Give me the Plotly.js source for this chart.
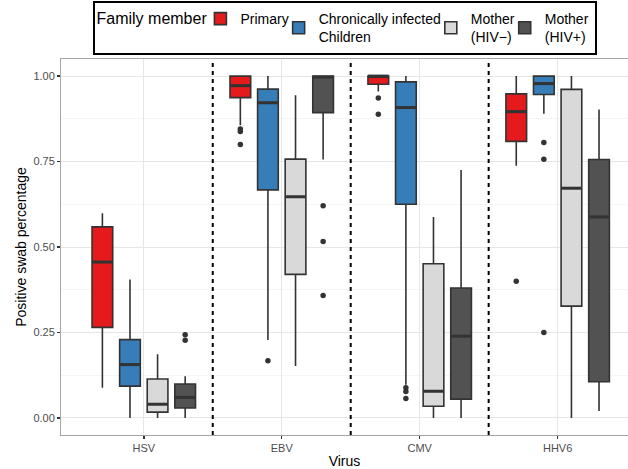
<!DOCTYPE html>
<html>
<head>
<meta charset="utf-8">
<script src="https://cdn.plot.ly/plotly-3.0.1.min.js"></script>
<style>html,body{margin:0;padding:0;background:#fff;}#chart{width:628px;height:469px;}</style>
</head>
<body>
<div id="chart"></div>
<script>
// Categories
var viruses = ['HSV', 'EBV', 'CMV', 'HHV6'];
var groupNames = ['Primary', 'Chronically infected<br>Children', 'Mother<br>(HIV\u2212)', 'Mother<br>(HIV+)'];
var groupColors = ['#E41A1C', '#377EB8', '#D9D9D9', '#525252'];

// Primary
var primaryQ1 = [0.265, 0.937, 0.976, 0.809];
var primaryMedian = [0.456, 0.972, 1.0, 0.896];
var primaryQ3 = [0.559, 1.0, 1.0, 0.948];
var primaryLow = [0.088, 0.856, 0.955, 0.738];
var primaryHigh = [0.599, 1.0, 1.0, 1.0];
var primaryOut = [[], [0.845, 0.838, 0.800], [0.936, 0.888], [0.400]];

// Chronically infected children
var chronicQ1 = [0.093, 0.667, 0.625, 0.946];
var chronicMedian = [0.156, 0.922, 0.908, 0.978];
var chronicQ3 = [0.229, 0.962, 0.983, 1.0];
var chronicLow = [0.0, 0.228, 0.097, 0.890];
var chronicHigh = [0.405, 1.0, 1.0, 1.0];
var chronicOut = [[], [0.167], [0.088, 0.077, 0.057], [0.806, 0.757, 0.250]];

// Mother (HIV-)
var motherNegQ1 = [0.017, 0.420, 0.034, 0.327];
var motherNegMedian = [0.040, 0.647, 0.078, 0.672];
var motherNegQ3 = [0.114, 0.757, 0.451, 0.961];
var motherNegLow = [0.0, 0.152, 0.0, 0.0];
var motherNegHigh = [0.186, 0.944, 0.588, 1.0];
var motherNegOut = [[], [], [], []];

// Mother (HIV+)
var motherPosQ1 = [0.029, 0.893, 0.055, 0.106];
var motherPosMedian = [0.060, 0.997, 0.239, 0.588];
var motherPosQ3 = [0.099, 1.0, 0.380, 0.756];
var motherPosLow = [0.0, 0.756, 0.0, 0.020];
var motherPosHigh = [0.122, 1.0, 0.725, 0.902];
var motherPosOut = [[0.243, 0.227], [0.621, 0.516, 0.358], [], []];

var groups = [
  {q1: primaryQ1, med: primaryMedian, q3: primaryQ3, lo: primaryLow, hi: primaryHigh, out: primaryOut},
  {q1: chronicQ1, med: chronicMedian, q3: chronicQ3, lo: chronicLow, hi: chronicHigh, out: chronicOut},
  {q1: motherNegQ1, med: motherNegMedian, q3: motherNegQ3, lo: motherNegLow, hi: motherNegHigh, out: motherNegOut},
  {q1: motherPosQ1, med: motherPosMedian, q3: motherPosQ3, lo: motherPosLow, hi: motherPosHigh, out: motherPosOut}
];

var BOXGAP = 0.2, BOXGROUPGAP = 0.25;
var nG = groups.length;
var pos = viruses.map(function (v, i) { return i; });
function offsetOf(g) { return (-0.5 + (g + 0.5) / nG) * (1 - BOXGAP); }
var halfW = 0.5 * (1 - BOXGAP) * (1 - BOXGROUPGAP) / nG;

var traces = [];
groups.forEach(function (G, g) {
  traces.push({
    type: 'box', name: groupNames[g], x: pos,
    q1: G.q1, median: G.med, q3: G.q3, lowerfence: G.lo, upperfence: G.hi,
    boxpoints: false, whiskerwidth: 0,
    fillcolor: groupColors[g], line: {color: '#333333', width: 1.6},
    hoverinfo: 'skip', offsetgroup: String(g), legendgroup: String(g)
  });
});
groups.forEach(function (G, g) {
  // thick median segments
  var mx = [], my = [];
  pos.forEach(function (p, i) {
    var c = p + offsetOf(g);
    mx.push(c - halfW, c + halfW, null);
    my.push(G.med[i], G.med[i], null);
  });
  traces.push({type: 'scatter', mode: 'lines', x: mx, y: my, showlegend: false, hoverinfo: 'skip',
    line: {color: '#333333', width: 3}, cliponaxis: false});
  // outliers
  var ox = [], oy = [];
  pos.forEach(function (p, i) {
    G.out[i].forEach(function (v) { ox.push(p + offsetOf(g)); oy.push(v); });
  });
  traces.push({type: 'scatter', mode: 'markers', x: ox, y: oy, showlegend: false, hoverinfo: 'skip',
    marker: {color: '#333333', size: 5.5}});
});

var shapes = [0.5, 1.5, 2.5].map(function (xv) {
  return {type: 'line', xref: 'x', yref: 'paper', x0: xv, x1: xv, y0: 0, y1: 1,
    line: {color: '#000000', width: 2, dash: '4px,4px'}};
});

var font = 'Liberation Sans, Arial, Helvetica, sans-serif';
var layout = {
  width: 628, height: 469,
  margin: {l: 61, r: 0, t: 59, b: 34, pad: 0},
  paper_bgcolor: '#ffffff', plot_bgcolor: '#ffffff',
  font: {family: font, color: '#000000'},
  boxmode: 'group', boxgap: BOXGAP, boxgroupgap: BOXGROUPGAP,
  showlegend: true,
  legend: {
    orientation: 'h', x: 0.5, xanchor: 'center', y: 1.0106, yanchor: 'bottom',
    bordercolor: '#000000', borderwidth: 2, bgcolor: '#ffffff',
    font: {family: font, size: 14, color: '#000000'},
    title: {text: 'Family member', side: 'left', font: {family: font, size: 16, color: '#000000'}},
    itemwidth: 30, indentation: -15, traceorder: 'normal', tracegroupgap: 0
  },
  xaxis: {
    type: 'linear', range: [-0.6, 3.51], tickvals: pos, ticktext: viruses,
    showgrid: true, gridcolor: '#e6e6e6', gridwidth: 1, zeroline: false,
    showline: true, linecolor: '#a6a6a6', linewidth: 1, mirror: true,
    ticks: 'outside', ticklen: 3, tickcolor: '#333333', tickwidth: 1.5,
    tickfont: {family: font, size: 11, color: '#4d4d4d'},
    title: {text: 'Virus', font: {family: font, size: 14, color: '#000000'}, standoff: 3}
  },
  yaxis: {
    range: [-0.05, 1.05], tickvals: [0, 0.25, 0.5, 0.75, 1.0],
    ticktext: ['0.00', '0.25', '0.50', '0.75', '1.00'],
    showgrid: true, gridcolor: '#e6e6e6', gridwidth: 1, zeroline: false,
    minor: {tickvals: [0.125, 0.375, 0.625, 0.875], showgrid: true, gridcolor: '#f5f5f5', gridwidth: 1, ticks: ''},
    showline: true, linecolor: '#a6a6a6', linewidth: 1, mirror: true,
    ticks: 'outside', ticklen: 3, tickcolor: '#333333', tickwidth: 1.5,
    tickfont: {family: font, size: 11, color: '#4d4d4d'},
    title: {text: 'Positive swab percentage', font: {family: font, size: 14, color: '#000000'}, standoff: 3}
  },
  shapes: shapes
};

Plotly.newPlot('chart', traces, layout, {displayModeBar: false, staticPlot: true});
</script>
</body>
</html>
